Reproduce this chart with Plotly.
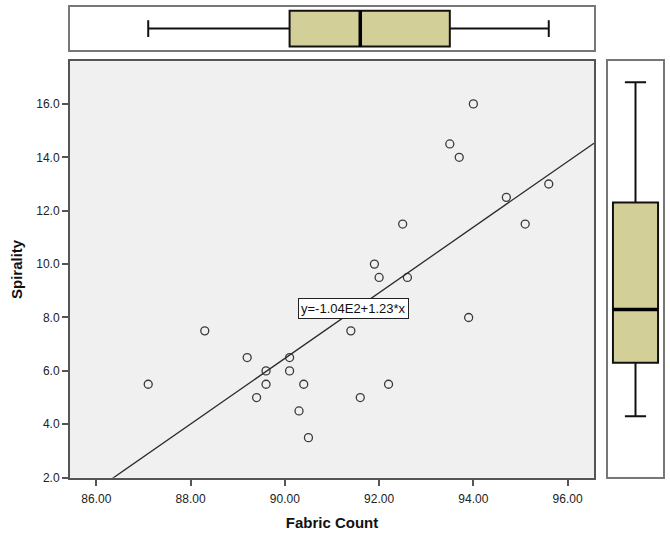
import numpy as np
import plotly.graph_objects as go

# Data
fabric_count = [94.0, 93.5, 93.7, 95.6, 94.7, 92.5, 95.1, 91.9, 92.0, 92.6,
                88.3, 87.1, 89.2, 90.1, 89.6, 90.1, 89.6, 90.4, 92.2, 89.4,
                91.6, 90.3, 90.5, 91.4, 93.9]
spirality = [16.0, 14.5, 14.0, 13.0, 12.5, 11.5, 11.5, 10.0, 9.5, 9.5,
             7.5, 5.5, 6.5, 6.5, 6.0, 6.0, 5.5, 5.5, 5.5, 5.0,
             5.0, 4.5, 3.5, 7.5, 8.0]
x_ticks = [86, 88, 90, 92, 94, 96]
y_ticks = [2, 4, 6, 8, 10, 12, 14, 16]
fit_label = "y=-1.04E2+1.23*x"

x_range = [85.44, 96.56]
y_range = [2.0, 17.6]
box_y_range = [1.24, 16.79]

slope, intercept = np.polyfit(fabric_count, spirality, 1)
line_x = np.array(x_range)
line_y = intercept + slope * line_x

W, H = 670, 536
def px_x(p):
    return p / W
def px_y(p):
    return 1 - p / H

BOX_FILL = "#D3CF99"
BOX_W = 0.82
FONT_FAM = "Arial, Liberation Sans, sans-serif"
AXIS_FONT = dict(family=FONT_FAM, size=12, color="#222222")

fig = go.Figure()

fig.add_trace(go.Scatter(
    x=fabric_count, y=spirality, mode="markers",
    marker=dict(symbol="circle-open", size=8, color="#3a3a3a", line=dict(width=1.3, color="#3a3a3a")),
    xaxis="x", yaxis="y", showlegend=False, hoverinfo="x+y"))

fig.add_trace(go.Scatter(
    x=line_x, y=line_y, mode="lines",
    line=dict(color="#2a2a2a", width=1.3),
    xaxis="x", yaxis="y", showlegend=False, hoverinfo="skip"))

# top horizontal boxplot
fig.add_trace(go.Box(
    x=fabric_count, y0=0, orientation="h", quartilemethod="inclusive",
    boxpoints=False, fillcolor=BOX_FILL, line=dict(color="#111111", width=2),
    width=BOX_W, whiskerwidth=0.47,
    xaxis="x2", yaxis="y2", showlegend=False))

# right vertical boxplot
fig.add_trace(go.Box(
    y=spirality, x0=0, quartilemethod="inclusive",
    boxpoints=False, fillcolor=BOX_FILL, line=dict(color="#111111", width=2),
    width=BOX_W, whiskerwidth=0.47,
    xaxis="x3", yaxis="y3", showlegend=False))

main_x_dom = [px_x(70), px_x(594)]
main_y_dom = [px_y(484), px_y(62)]

fig.update_layout(
    width=W, height=H,
    margin=dict(l=0, r=0, t=0, b=0),
    paper_bgcolor="white",
    plot_bgcolor="#F0F0F0",
    font=AXIS_FONT,
    xaxis=dict(domain=main_x_dom, range=x_range, tickvals=x_ticks, tickformat=".2f",
               showgrid=False, zeroline=False, showline=True, mirror=True,
               linecolor="#555555", linewidth=2, ticks="outside", ticklen=6,
               tickcolor="#555555", tickwidth=1.5, tickfont=AXIS_FONT, ticklabelstandoff=3,
               title=dict(text="<b>Fabric Count</b>", font=dict(family=FONT_FAM, size=15, color="#111111"), standoff=12),
               anchor="y"),
    yaxis=dict(domain=main_y_dom, range=y_range, tickvals=y_ticks, tickformat=".1f",
               showgrid=False, zeroline=False, showline=True, mirror=True,
               linecolor="#555555", linewidth=2, ticks="outside", ticklen=6,
               tickcolor="#555555", tickwidth=1.5, tickfont=AXIS_FONT,
               title=dict(text="<b>Spirality</b>", font=dict(family=FONT_FAM, size=15, color="#111111"), standoff=10),
               anchor="x"),
    xaxis2=dict(domain=main_x_dom, range=x_range, matches="x", showticklabels=False,
                showgrid=False, zeroline=False, showline=True, mirror=True,
                linecolor="#777777", linewidth=1.5, ticks="", anchor="y2"),
    yaxis2=dict(domain=[px_y(51), px_y(7)], range=[-0.5, 0.5], showticklabels=False,
                showgrid=False, zeroline=False, showline=True, mirror=True,
                linecolor="#777777", linewidth=1.5, ticks="", anchor="x2"),
    xaxis3=dict(domain=[px_x(608), px_x(663)], range=[-0.5, 0.5], showticklabels=False,
                showgrid=False, zeroline=False, showline=True, mirror=True,
                linecolor="#777777", linewidth=1.5, ticks="", anchor="y3"),
    yaxis3=dict(domain=[px_y(483), px_y(62)], range=box_y_range, showticklabels=False,
                showgrid=False, zeroline=False, showline=True, mirror=True,
                linecolor="#777777", linewidth=1.5, ticks="", anchor="x3"),
)

fig.add_annotation(
    x=91.45, y=8.35, xref="x", yref="y", text=fit_label, showarrow=False,
    font=dict(family=FONT_FAM, size=13, color="#111111"),
    bgcolor="white", bordercolor="#222222", borderwidth=1, borderpad=2)

# white backgrounds for box panels
fig.add_shape(type="rect", xref="x2 domain", yref="y2 domain", x0=0, x1=1, y0=0, y1=1,
              fillcolor="white", line=dict(width=0), layer="below")
fig.add_shape(type="rect", xref="x3 domain", yref="y3 domain", x0=0, x1=1, y0=0, y1=1,
              fillcolor="white", line=dict(width=0), layer="below")

# thicker median lines
med_x = float(np.median(fabric_count))
med_y = float(np.median(spirality))
fig.add_shape(type="line", xref="x2", yref="y2", x0=med_x, x1=med_x, y0=-BOX_W / 2, y1=BOX_W / 2,
              line=dict(color="#000000", width=3.5))
fig.add_shape(type="line", xref="x3", yref="y3", x0=-BOX_W / 2, x1=BOX_W / 2, y0=med_y, y1=med_y,
              line=dict(color="#000000", width=3.5))

fig.write_html("out.html")
